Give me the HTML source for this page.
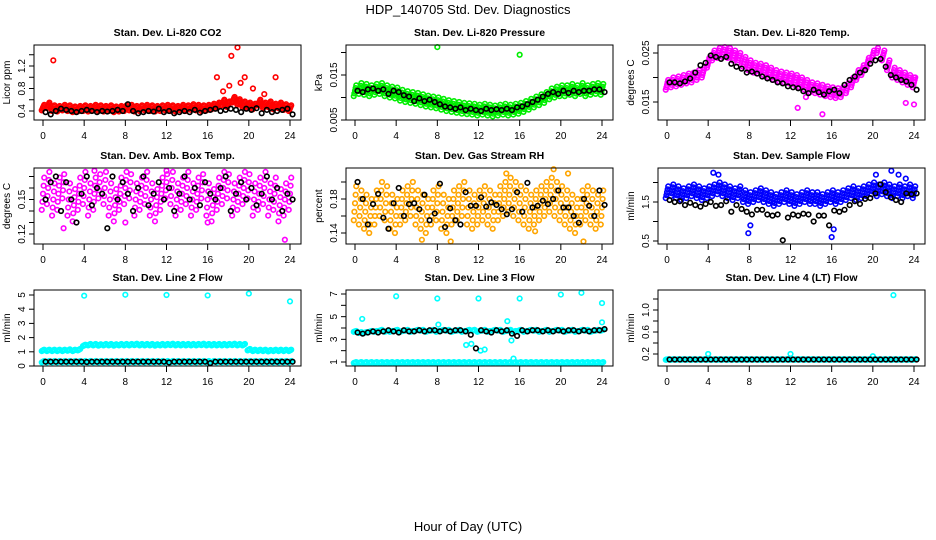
<!DOCTYPE html>
<html><head><meta charset="utf-8"><style>
body{margin:0;background:#fff}
svg{display:block;font-family:"Liberation Sans",sans-serif}
</style></head><body>
<svg id="c" width="936" height="540" xmlns="http://www.w3.org/2000/svg">
<text x="468" y="14" text-anchor="middle" font-size="13">HDP_140705  Std. Dev. Diagnostics</text>
<text x="468" y="531" text-anchor="middle" font-size="13">Hour of Day (UTC)</text>
</svg>
<script>
const xTicks=[0,4,8,12,16,20,24];
const co2Main=[.46,.5,.45,.44,.46,.45,.43,.44,.45,.44,.46,.45,.44,.45,.43,.44,.45,.46,.44,.45,.46,.45,.44,.45,.46,.45,.44,.46,.45,.47,.46,.45,.46,.48,.5,.55,.52,.6,.56,.52,.5,.48,.55,.5,.52,.48,.5,.47,.45];
const co2Black=[.38,.34,.4,.44,.42,.4,.38,.4,.42,.4,.38,.4,.39,.4,.42,.4,.52,.4,.36,.38,.4,.39,.44,.38,.4,.36,.38,.4,.38,.42,.37,.4,.42,.44,.4,.42,.44,.42,.38,.44,.42,.45,.36,.42,.38,.4,.42,.44,.34];
const co2Out=[[1,1.3],[18.3,1.38],[18.6,1.56],[18.9,1.53],[16.9,1.0],[19.6,1.0],[22.6,1.0],[20.4,0.8],[18.1,0.85],[17.5,0.75],[19.2,0.9],[21.5,0.7]];
const presMain=[.0115,.012,.0118,.0115,.0118,.012,.0115,.0112,.011,.0105,.0102,.01,.0098,.0095,.0092,.009,.0088,.0085,.0082,.008,.0078,.0076,.0075,.0074,.0072,.0074,.0072,.007,.0072,.0074,.0072,.0074,.0076,.008,.0085,.009,.0095,.01,.0108,.0112,.0115,.0115,.0118,.0115,.012,.0115,.0118,.012,.0118];
const presBlack=[.0115,.0112,.0118,.012,.0115,.0118,.0108,.0115,.0112,.0105,.0102,.0092,.0098,.0092,.0095,.009,.0085,.008,.0078,.0075,.0078,.0072,.0075,.0072,.007,.0075,.0072,.0074,.0072,.0075,.0072,.0078,.008,.0085,.009,.0095,.0102,.0108,.0112,.0108,.0115,.011,.0115,.0112,.0115,.0115,.0118,.0118,.0112];
const presOut=[[8,.0212],[16,.0195],[24,.0224]];
const tempMain=[.0185,.019,.0192,.0195,.0198,.02,.0205,.021,.023,.0245,.025,.0252,.025,.0245,.024,.0232,.0225,.022,.0218,.0215,.021,.0205,.0202,.02,.0198,.0195,.019,.0185,.018,.0178,.0175,.0172,.017,.0168,.017,.0178,.019,.0205,.0215,.023,.0245,.026,.0245,.0225,.021,.0205,.02,.0195,.019];
const tempBlack=[.019,.019,.0188,.0192,.0198,.021,.0225,.023,.0245,.0242,.0238,.0242,.0228,.0222,.0218,.021,.0212,.0208,.0202,.0198,.0195,.019,.0188,.0182,.018,.0178,.0172,.0168,.0175,.017,.0165,.0172,.0175,.0168,.0185,.0195,.0202,.021,.0215,.0228,.0235,.0238,.0222,.0205,.02,.0195,.0192,.0185,.0175];
const tempOut=[[15.1,.0125],[12.7,.0138],[24,.0145],[23.2,.0148],[24,.02],[13.5,.016]];
const ambMain=[.155,.16,.15,.155,.165,.15,.145,.155,.16,.15,.155,.165,.16,.15,.145,.155,.16,.165,.15,.155,.16,.15,.145,.155,.165,.16,.15,.155,.16,.15,.155,.165,.15,.145,.155,.16,.165,.15,.155,.16,.165,.15,.155,.16,.15,.155,.145,.15,.155];
const ambBlack=[.15,.165,.17,.14,.165,.15,.13,.155,.17,.145,.16,.155,.125,.17,.15,.165,.155,.14,.16,.17,.145,.155,.165,.15,.16,.14,.155,.17,.15,.16,.145,.165,.155,.15,.16,.17,.14,.155,.165,.15,.16,.145,.155,.17,.15,.16,.14,.155,.15];
const ambOut=[[2,.125],[8,.13],[16,.13],[23.5,.115],[12,.175],[20,.178],[5,.175],[2.5,.112],[17,.18]];
const rhMain=[.175,.17,.165,.16,.17,.18,.175,.165,.16,.17,.175,.18,.17,.165,.16,.17,.175,.165,.16,.17,.175,.18,.17,.165,.17,.175,.17,.165,.175,.18,.185,.18,.175,.17,.165,.17,.175,.18,.185,.18,.175,.17,.165,.16,.17,.175,.17,.165,.17];
const rhBlack=[.2,.18,.15,.174,.186,.158,.145,.175,.193,.16,.174,.175,.168,.185,.155,.163,.198,.147,.169,.155,.15,.188,.172,.172,.182,.171,.176,.173,.168,.162,.168,.188,.165,.199,.17,.172,.178,.174,.18,.19,.17,.17,.16,.152,.18,.172,.16,.19,.173];
const rhOut=[[5.8,.128],[6.5,.132],[9.3,.13],[14.7,.21],[19.3,.215],[20.7,.21],[17.5,.142],[22.2,.13]];
const flowMain=[1.75,1.8,1.75,1.7,1.75,1.8,1.75,1.7,1.75,1.8,1.85,1.8,1.75,1.7,1.75,1.65,1.6,1.65,1.7,1.65,1.6,1.55,1.6,1.65,1.6,1.55,1.6,1.65,1.6,1.6,1.55,1.6,1.65,1.6,1.65,1.7,1.75,1.7,1.75,1.8,1.85,1.8,1.85,1.8,1.75,1.8,1.75,1.8,1.75];
const flowBlack=[1.55,1.5,1.52,1.42,1.48,1.42,1.38,1.45,1.5,1.4,1.42,1.52,1.25,1.42,1.32,1.25,1.18,1.3,1.3,1.18,1.15,1.18,0.52,1.1,1.18,1.15,1.2,1.18,1.0,1.15,1.15,0.9,1.28,1.25,1.3,1.42,1.52,1.45,1.58,1.6,1.72,1.95,1.75,1.62,1.55,1.5,1.72,1.7,1.72];
const flowOut=[[4.5,2.25],[5,2.2],[7.9,0.7],[8.1,0.9],[16,0.6],[16.2,0.8],[21.8,2.3],[22.5,2.2],[20.3,2.2],[23.2,2.1]];
const l2Main=[1.1,1.1,1.1,1.1,1.1,1.12,1.1,1.15,1.45,1.5,1.5,1.48,1.5,1.5,1.48,1.5,1.5,1.5,1.52,1.5,1.5,1.5,1.48,1.5,1.5,1.52,1.5,1.5,1.5,1.5,1.5,1.52,1.5,1.5,1.5,1.5,1.5,1.52,1.5,1.5,1.15,1.1,1.1,1.1,1.08,1.1,1.1,1.1,1.1];
const l2Low=[.3,.3,.3,.3,.3,.3,.3,.3,.3,.3,.3,.3,.3,.3,.3,.3,.3,.3,.3,.3,.3,.3,.3,.3,.3,.3,.3,.3,.3,.3,.3,.3,.3,.3,.3,.3,.3,.3,.3,.3,.3,.3,.3,.3,.3,.3,.3,.3,.3];
const l2Black=[.3,.3,.3,.3,.3,.3,.3,.3,.28,.3,.3,.3,.3,.3,.3,.3,.3,.3,.3,.3,.3,.3,.3,.3,.25,.3,.3,.3,.3,.3,.3,.3,.2,.3,.3,.3,.3,.3,.3,.3,.3,.3,.3,.3,.3,.3,.3,.3,.3];
const l2Out=[[4,4.95],[8,5.02],[12,5.0],[16,4.97],[20,5.1],[24,4.55]];
const l3Main=[.95,.95,.95,.95,.95,.95,.95,.95,.95,.95,.95,.95,.95,.95,.95,.95,.95,.95,.95,.95,.95,.95,.95,.95,.95,.95,.95,.95,.95,.95,.95,.95,.95,.95,.95,.95,.95,.95,.95,.95,.95,.95,.95,.95,.95,.95,.95,.95,.95];
const l3High=[3.7,3.6,3.6,3.7,3.7,3.8,3.7,3.7,3.8,3.7,3.8,3.7,3.8,3.8,3.7,3.8,3.7,3.8,3.8,3.7,3.8,3.7,3.8,3.8,3.7,3.8,3.7,3.8,3.8,3.7,3.8,3.7,3.8,3.7,3.8,3.8,3.7,3.8,3.7,3.8,3.8,3.7,3.8,3.7,3.8,3.8,3.7,3.8,3.8];
const l3Black=[3.6,3.5,3.6,3.7,3.6,3.7,3.8,3.7,3.6,3.8,3.7,3.7,3.8,3.7,3.8,3.8,3.7,3.8,3.7,3.8,3.8,3.7,3.4,2.2,3.8,3.7,3.6,3.8,3.7,3.8,3.5,3.3,3.8,3.7,3.8,3.8,3.7,3.8,3.7,3.8,3.7,3.8,3.8,3.7,3.8,3.7,3.8,3.8,3.9];
const l3Out=[[4,6.8],[8,6.6],[12,6.6],[16,6.6],[20,6.95],[22,7.1],[24,6.2],[0.7,4.8],[10.8,2.5],[11.3,2.6],[12.2,2.0],[12.6,2.1],[15.4,1.3],[15.2,2.9],[24,4.5],[8.1,4.3],[14.8,4.6]];
const l4Main=[.1,.1,.1,.1,.1,.1,.1,.1,.1,.1,.1,.1,.1,.1,.1,.1,.1,.1,.1,.1,.1,.1,.1,.1,.1,.1,.1,.1,.1,.1,.1,.1,.1,.1,.1,.1,.1,.1,.1,.1,.1,.1,.1,.1,.1,.1,.1,.1,.1];
const l4Black=[.1,.1,.1,.1,.1,.1,.1,.1,.1,.1,.1,.1,.1,.1,.1,.1,.1,.1,.1,.1,.1,.1,.1,.1,.1,.1,.1,.1,.1,.1,.1,.1,.1,.1,.1,.1,.1,.1,.1,.1,.1,.1,.1,.1,.1,.1,.1,.1,.1];
const l4Out=[[4,.2],[12,.2],[20,.16],[22,1.27]];

const panels=[
 {name:'co2',title:'Stan. Dev. Li-820 CO2',yl:'Licor ppm',col:0,row:0,main:co2Main,sd:.05,black:co2Black,out:co2Out,color:'#ff0000',ticks:[.4,.6,.8,1.0,1.2,1.4],lab:['0.4','','0.8','','1.2',''],ya:[.4,111],yb:[1.2,66]},
 {name:'pressure',title:'Stan. Dev. Li-820 Pressure',yl:'kPa',col:1,row:0,main:presMain,sd:.0012,black:presBlack,out:presOut,color:'#00ee00',ticks:[.005,.01,.015,.02],lab:['0.005','','0.015',''],ya:[.005,120],yb:[.015,75]},
 {name:'temp',title:'Stan. Dev. Li-820 Temp.',yl:'degrees C',col:2,row:0,main:tempMain,sd:.001,black:tempBlack,out:tempOut,color:'#ff00ff',ticks:[.015,.02,.025],lab:['0.015','','0.025'],ya:[.015,102],yb:[.025,53]},
 {name:'amb-box',title:'Stan. Dev. Amb. Box Temp.',yl:'degrees C',col:0,row:1,main:ambMain,sd:.014,black:ambBlack,out:ambOut,color:'#ff00ff',ticks:[.12,.13,.14,.15,.16,.17,.18],lab:['0.12','','','0.15','','','0.18'],ya:[.12,234],yb:[.18,165]},
 {name:'gas-rh',title:'Stan. Dev. Gas Stream RH',yl:'percent',col:1,row:1,main:rhMain,sd:.02,black:rhBlack,out:rhOut,color:'#ffa500',ticks:[.14,.16,.18,.2,.22],lab:['0.14','','0.18','','0.22'],ya:[.14,233],yb:[.22,165]},
 {name:'sample-flow',title:'Stan. Dev. Sample Flow',yl:'ml/min',col:2,row:1,main:flowMain,sd:.15,black:flowBlack,out:flowOut,color:'#0000ff',ticks:[.5,1,1.5,2],lab:['0.5','','1.5',''],ya:[.5,241],yb:[1.5,202]},
 {name:'line2-flow',title:'Stan. Dev. Line 2 Flow',yl:'ml/min',col:0,row:2,main:l2Main,sd:.05,main2:l2Low,black:l2Black,out:l2Out,color:'#00ffff',ticks:[0,1,2,3,4,5],lab:['0','1','2','3','4','5'],ya:[0,366],yb:[5,295]},
 {name:'line3-flow',title:'Stan. Dev. Line 3 Flow',yl:'ml/min',col:1,row:2,main:l3Main,sd:.04,main2:l3High,black:l3Black,out:l3Out,color:'#00ffff',ticks:[1,2,3,4,5,6,7],lab:['1','','3','','5','','7'],ya:[1,362],yb:[7,294]},
 {name:'line4-flow',title:'Stan. Dev. Line 4 (LT) Flow',yl:'ml/min',col:2,row:2,main:l4Main,sd:.005,black:l4Black,out:l4Out,color:'#00ffff',ticks:[.2,.4,.6,.8,1.0,1.2],lab:['0.2','','0.6','','1.0',''],ya:[.2,354],yb:[1.0,310]}
];
const NS='http://www.w3.org/2000/svg';
const svg=document.getElementById('c');
function mk(t,a,p){const e=document.createElementNS(NS,t);for(const k in a)e.setAttribute(k,a[k]);(p||svg).appendChild(e);return e;}
const colX=[[34,301],[346,613],[658,925]];
const rowY=[[45,120],[168,244],[290,366]];
panels.forEach(p=>{
 const [bx0,bx1]=colX[p.col],[by0,by1]=rowY[p.row];
 const g=mk('g',{});
 
 
 const xs=h=>bx0+9+h*(bx1-bx0-20)/24;
 const ys=v=>p.ya[1]+(v-p.ya[0])*(p.yb[1]-p.ya[1])/(p.yb[0]-p.ya[0]);
 const cg=mk('g',{},g);
 const dot=(h,v,c,sw,parent)=>{const y=ys(v);if(y<by0+1||y>by1-1)return;const e=mk('circle',{cx:xs(h),cy:y,r:2.3,fill:'none',stroke:c,'stroke-width':sw},parent);
  
  };
 const offs=[-1,-0.5,0,0.5,1];
 p.main.forEach((v,i)=>{offs.forEach(o=>dot(i*0.5+o*0.12,v+o*p.sd,p.color,1.6,cg));});
 if(p.main2)p.main2.forEach((v,i)=>{[-1,0,1].forEach(o=>dot(i*0.5+o*0.12,v+o*p.sd,p.color,1.6,cg));});
 p.out.forEach(d=>dot(d[0],d[1],p.color,1.6,cg));
 p.black.forEach((v,i)=>dot(i*0.5+0.25,v,'#000',1.6,cg));
 const box=mk('rect',{x:bx0,y:by0,width:bx1-bx0,height:by1-by0,fill:'none',stroke:'#000','stroke-width':1},g);
 
 
 const t=mk('text',{x:(bx0+bx1)/2,y:by0-9,'text-anchor':'middle','font-size':10.5,'font-weight':'bold'},g);t.textContent=p.title;
 
 
 xTicks.forEach(h=>{const x=xs(h);mk('line',{x1:x,x2:x,y1:by1,y2:by1+6,stroke:'#000'},g);
  const l=mk('text',{x:x,y:by1+19,'text-anchor':'middle','font-size':10},g);l.textContent=h;
  
  });
 mk('line',{x1:xs(0),x2:xs(24),y1:by1,y2:by1,stroke:'#000'},g);
 p.ticks.forEach((v,i)=>{const y=ys(v);if(y<by0-1||y>by1+1)return;mk('line',{x1:bx0-5,x2:bx0,y1:y,y2:y,stroke:'#000'},g);
  if(p.lab[i]){const l=mk('text',{x:bx0-9,y:y,'text-anchor':'middle','font-size':10,transform:`rotate(-90 ${bx0-9} ${y})`},g);l.textContent=p.lab[i];
  
  }});
 const ym=(by0+by1)/2;
 const yl=mk('text',{x:bx0-24,y:ym,'text-anchor':'middle','font-size':10,transform:`rotate(-90 ${bx0-24} ${ym})`},g);yl.textContent=p.yl;
 
 
});
</script>
</body></html>
